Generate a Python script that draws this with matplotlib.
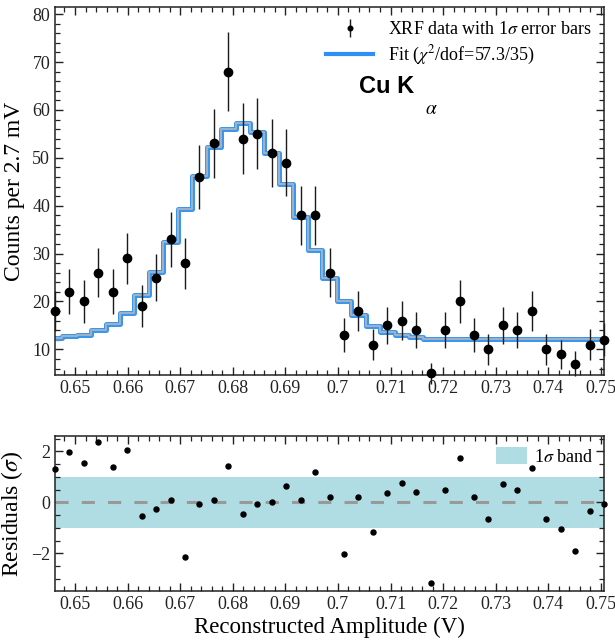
import numpy as np
import matplotlib
matplotlib.use("Agg")
import matplotlib.pyplot as plt
from matplotlib.ticker import MultipleLocator

# ---- data ----
x_start, x_stop, n_bins = 0.6462, 0.7506, 39
counts = [18, 22, 20, 26, 22, 29, 19, 25, 33, 28, 46, 53, 68, 54, 55, 51, 49, 38, 38, 26,
          13, 18, 11, 15, 16, 14, 5, 14, 20, 13, 10, 15, 14, 18, 10, 9, 7, 11, 12]
fit = [12.4, 12.7, 13.1, 14.0, 15.4, 17.7, 21.3, 26.2, 32.4, 39.3, 46.2, 52.3, 56.1, 57.2,
       55.3, 51.1, 44.6, 37.6, 30.8, 24.9, 20.2, 17.1, 14.9, 13.6, 12.9, 12.5, 12.2, 12.2,
       12.2, 12.2, 12.1, 12.2, 12.2, 12.2, 12.1, 12.1, 12.1, 12.1, 12.2]
residuals = [1.32, 1.99, 1.55, 2.36, 1.40, 2.07, -0.54, -0.25, 0.10, -2.13, -0.05, 0.10, 1.43,
             -0.45, -0.05, 0.01, 0.62, 0.07, 1.17, 0.22, -2.01, 0.22, -1.17, 0.37, 0.77, 0.41,
             -3.18, 0.47, 1.73, 0.22, -0.67, 0.72, 0.48, 1.36, -0.67, -1.04, -1.92, -0.34, -0.05]
x_ticks = [0.65, 0.66, 0.67, 0.68, 0.69, 0.70, 0.71, 0.72, 0.73, 0.74, 0.75]
x_tick_labels = ["0.65", "0.66", "0.67", "0.68", "0.69", "0.7", "0.71", "0.72", "0.73", "0.74", "0.75"]

x = np.linspace(x_start, x_stop, n_bins)
counts = np.array(counts, dtype=float)
err = np.sqrt(counts)

plt.rcParams['font.family'] = ['Liberation Serif', 'DejaVu Serif']
plt.rcParams['mathtext.fontset'] = 'stix'

fig = plt.figure(figsize=(6.15, 6.43), dpi=100)
W, H = 615, 643
ax1 = fig.add_axes([55 / W, 1 - 375 / H, 549 / W, 368 / H])
ax2 = fig.add_axes([55 / W, 1 - 591 / H, 549 / W, 155 / H])

def style(ax):
    ax.tick_params(which='both', direction='in', top=True, right=True, labelsize=13, colors='#222222')
    ax.tick_params(which='major', length=6, width=1.0)
    ax.tick_params(which='minor', length=3.5, width=0.9)
    for s in ax.spines.values():
        s.set_linewidth(1.1)
        s.set_color('#222222')
    ax.xaxis.set_minor_locator(MultipleLocator(0.002))
    ax.set_xticks(x_ticks)
    ax.set_xticklabels(x_tick_labels)
    ax.set_xlim(x[0], x[-1])

# ---- top panel ----
blue = '#3a97f0'
ax1.step(x, fit, where='mid', color=blue, lw=3.6, zorder=2)
ax1.step(x, fit, where='mid', color='#a9b3bf', lw=1.3, zorder=2.1)
fit_handle, = ax1.plot([], [], color='#2f8ff5', lw=3, label=r'Fit ($\chi^2$/dof=57.3/35)')
eb = ax1.errorbar(x, counts, yerr=err, fmt='o', color='black', ms=6, elinewidth=1.0,
                  ecolor='#1a1a1a', capsize=0, zorder=3, clip_on=False,
                  label=r'XRF data with 1$\sigma$ error bars')
for c in eb.lines[2]:
    c.set_clip_on(False)
ax1.set_ylim(4.65, 81.5)
ax1.yaxis.set_major_locator(MultipleLocator(10))
ax1.yaxis.set_minor_locator(MultipleLocator(2))
style(ax1)
ax1.set_ylabel('Counts per 2.7 mV', fontsize=17, labelpad=5)
leg = ax1.legend(handles=[eb, fit_handle], loc='upper right', frameon=False, fontsize=13,
                 markerscale=0.55, handlelength=2.6, borderaxespad=0.3, labelspacing=0.3,
                 bbox_to_anchor=(1.0, 0.995))
ax1.text(0.553, 0.765, 'Cu K', transform=ax1.transAxes, fontsize=17, fontweight='bold',
         family='Liberation Sans', ha='left', va='baseline')
ax1.text(0.674, 0.71, r'$\alpha$', transform=ax1.transAxes, fontsize=14, ha='left', va='baseline')

# ---- residual panel ----
ax2.axhspan(-1, 1, color='#b0dde3', lw=0, label=r'1$\sigma$ band', zorder=1)
ax2.axhline(0, color='#999999', lw=2.2, linestyle=(0, (4.3, 4.3)), zorder=2)
ax2.plot(x, residuals, 'o', color='black', ms=3.6, zorder=3, clip_on=False)
ax2.set_ylim(-3.48, 2.6)
ax2.yaxis.set_major_locator(MultipleLocator(2))
ax2.yaxis.set_minor_locator(MultipleLocator(0.5))
style(ax2)
ax2.set_ylabel(r'Residuals ($\sigma$)', fontsize=17, labelpad=4)
ax2.set_xlabel('Reconstructed Amplitude (V)', fontsize=16.5, labelpad=3)
ax2.legend(loc='upper right', frameon=False, fontsize=13, handlelength=1.7, handleheight=1.1,
           handletextpad=0.4, borderaxespad=0.2)

fig.savefig('out.png', dpi=100)
